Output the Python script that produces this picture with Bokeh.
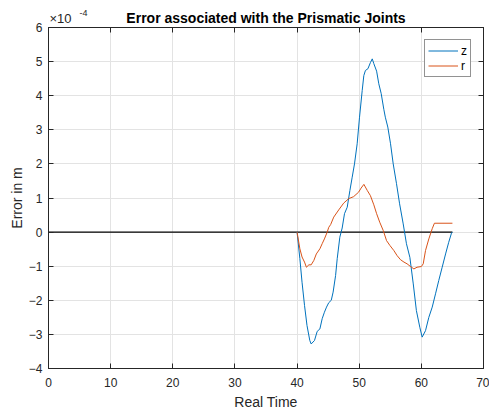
from bokeh.plotting import figure
from bokeh.models import (LinearAxis, Legend, LegendItem, FixedTicker,
                          Range1d, Title)
from bokeh.embed import file_html
from bokeh.resources import INLINE

# ---- data (error values in units of 1e-4 m) ----
z_time = [40.0, 40.45, 40.8, 41.2, 41.6, 42.05, 42.27, 42.8, 43.24, 43.67,
          44.04, 44.4, 44.74, 45.1, 45.5, 45.8, 46.2, 46.46, 46.88, 47.26,
          47.63, 48.07, 48.5, 48.87, 49.24, 49.67, 50.05, 50.48, 50.74, 51.0,
          51.4, 51.8, 52.1, 52.35, 52.8, 53.15, 53.54, 53.96, 54.2, 54.6,
          55.04, 55.47, 56.0, 56.5, 57.08, 57.6, 58.15, 58.7, 59.2, 59.75,
          60.13, 60.67, 61.2, 61.75, 62.28, 62.8, 63.35, 63.9, 64.4, 64.85, 65.0]
z_err = [0.0, -0.78, -1.47, -2.15, -2.74, -3.18, -3.28, -3.18, -2.91, -2.84,
         -2.54, -2.35, -2.2, -2.07, -2.0, -1.76, -1.27, -0.78, -0.15, 0.12,
         0.54, 0.73, 1.22, 1.61, 2.0, 2.59, 3.37, 4.15, 4.59, 4.74,
         4.79, 4.97, 5.08, 4.94, 4.72, 4.35, 4.06, 3.6, 3.37, 3.08,
         2.59, 2.0, 1.42, 0.83, 0.24, -0.34, -0.74, -1.52, -2.3, -2.79,
         -3.08, -2.89, -2.5, -2.2, -1.81, -1.42, -1.03, -0.64, -0.3, -0.03, 0.0]

r_time = [40.0, 40.45, 40.8, 41.2, 41.5, 41.9, 42.27, 42.7, 43.1, 43.67,
          44.04, 44.4, 44.85, 45.1, 45.4, 45.9, 46.7, 47.5, 48.3, 49.1,
          49.9, 50.3, 50.75, 51.3, 51.8, 52.35, 52.8, 53.3, 53.86, 54.4,
          54.93, 55.57, 56.1, 56.65, 57.2, 57.7, 58.26, 58.8, 59.3, 60.0,
          60.3, 60.67, 61.2, 61.75, 62.1, 65.0]
r_err = [0.0, -0.49, -0.73, -0.88, -1.03, -0.96, -0.96, -0.83, -0.64, -0.49,
         -0.34, -0.2, 0.0, 0.14, 0.22, 0.44, 0.65, 0.85, 0.98, 1.04,
         1.17, 1.29, 1.40, 1.22, 1.07, 0.8, 0.54, 0.29, 0.05, -0.25,
         -0.39, -0.54, -0.69, -0.81, -0.88, -0.93, -1.01, -1.08, -1.03, -1.01,
         -0.93, -0.54, -0.2, 0.1, 0.26, 0.26]

ref_time = [0.0, 65.0]
ref_err = [0.0, 0.0]

x_ticks = [0, 10, 20, 30, 40, 50, 60, 70]
y_ticks = [-4, -3, -2, -1, 0, 1, 2, 3, 4, 5, 6]

title_text = "Error associated with the Prismatic Joints"
x_label = "Real Time"
y_label = "Error in m"
exp_base = "\u00d710"
exp_power = "-4"
series_names = ["z", "r"]
series_colors = ["#0072BD", "#D95319"]

FONT = "Liberation Sans"
AX = "#262626"

p = figure(width=489, height=412, output_backend="svg", toolbar_location=None,
           x_range=Range1d(0, 70), y_range=Range1d(-4, 6),
           min_border_left=48, min_border_right=6, min_border_top=27,
           min_border_bottom=44, x_axis_label=x_label, y_axis_label=y_label)

p.outline_line_color = AX
p.outline_line_width = 1

for ax in (p.xaxis[0], p.yaxis[0]):
    ax.major_tick_in = 5
    ax.major_tick_out = 0
    ax.minor_tick_in = 0
    ax.minor_tick_out = 0
    ax.axis_line_color = AX
    ax.major_tick_line_color = AX
    ax.major_label_text_color = AX
    ax.major_label_text_font = FONT
    ax.major_label_text_font_size = "12px"
    ax.axis_label_text_font = FONT
    ax.axis_label_text_font_size = "14px"
    ax.axis_label_text_font_style = "normal"
    ax.axis_label_text_color = AX

p.xaxis.ticker = FixedTicker(ticks=x_ticks)
p.yaxis.ticker = FixedTicker(ticks=y_ticks)
p.xaxis.major_label_standoff = 9
p.xaxis.axis_label_standoff = 4
p.yaxis.major_label_standoff = 6
p.yaxis.axis_label_standoff = 1

# box ticks on the top and right edges (MATLAB "box on")
for loc, ticks in (("above", x_ticks), ("right", y_ticks)):
    a = LinearAxis(ticker=FixedTicker(ticks=ticks), major_tick_in=5,
                   major_tick_out=0, minor_tick_in=0, minor_tick_out=0,
                   major_label_text_font_size="0px", major_label_standoff=0,
                   axis_line_color=AX, major_tick_line_color=AX)
    p.add_layout(a, loc)

p.xgrid.ticker = FixedTicker(ticks=x_ticks)
p.ygrid.ticker = FixedTicker(ticks=y_ticks)
p.grid.grid_line_color = "#e3e3e3"
p.grid.grid_line_width = 1

# main title: row nearest the frame
p.add_layout(Title(text=title_text, align="center", text_font=FONT,
                   text_font_size="14px", text_font_style="bold",
                   text_color="black", standoff=3), "above")
# exponent "x10" dropped into the title band (left aligned over the y axis)
p.add_layout(Title(text="\n" + exp_base, align="left", offset=1,
                   text_font=FONT, text_font_size="13px",
                   text_font_style="normal", text_color=AX,
                   text_line_height=1.75, standoff=-38.9), "above")
# superscript "-4"
p.title = Title(text="\n" + exp_power, align="left", offset=31,
                text_font=FONT, text_font_size="9px",
                text_font_style="normal", text_color=AX,
                text_line_height=2.05, standoff=-30.1)

p.line(ref_time, ref_err, line_color="black", line_width=1.2)
rz = p.line(z_time, z_err, line_color=series_colors[0], line_width=1)
rr = p.line(r_time, r_err, line_color=series_colors[1], line_width=1)

legend = Legend(items=[LegendItem(label=series_names[0], renderers=[rz]),
                       LegendItem(label=series_names[1], renderers=[rr])],
                location="top_right", margin=12, padding=3, spacing=0,
                glyph_width=30, glyph_height=15, label_height=15,
                label_width=0, label_standoff=3,
                label_text_font=FONT, label_text_font_size="12px",
                label_text_color="black",
                border_line_color=AX, border_line_width=1,
                background_fill_color="white", background_fill_alpha=1)
p.add_layout(legend)

open("out.html", "w").write(file_html(p, INLINE))
